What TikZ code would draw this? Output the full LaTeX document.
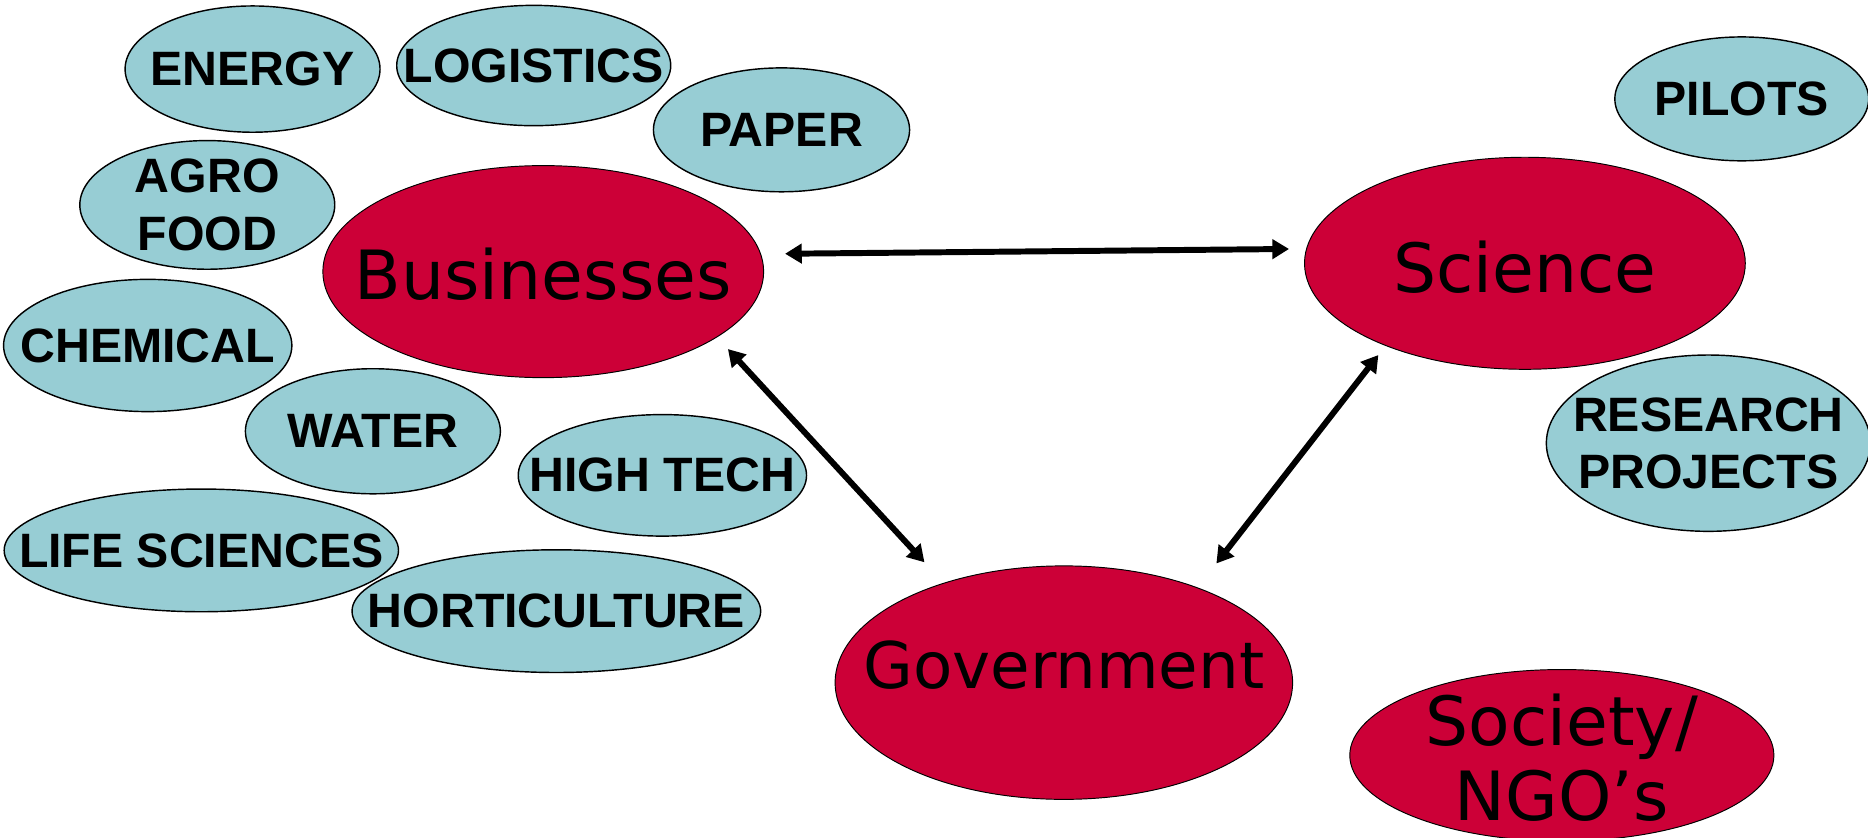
\documentclass[tikz,border=0pt]{standalone}
\usepackage{fontspec}
\setmainfont{Liberation Sans}
\newfontfamily\verd{DejaVu Sans}
\usetikzlibrary{shapes.geometric,arrows.meta,calc}
\definecolor{bubblue}{RGB}{151,205,212}
\definecolor{hubred}{RGB}{204,0,55}
\tikzset{
  bub/.style={ellipse, draw=black, line width=1.2pt, fill=bubblue, inner sep=0pt},
  hub/.style={ellipse, draw=black, line width=0.8pt, fill=hubred, inner sep=0pt},
  smalltxt/.style={font=\fontsize{40.5}{48}\selectfont\bfseries, align=center},
  bigtxt/.style={font=\verd\fontsize{57}{63}\selectfont, align=center},
  link/.style={draw=black, line width=5pt, {Triangle[length=14pt,width=16pt]}-{Triangle[length=14pt,width=16pt]}}
}
\begin{document}
\begin{tikzpicture}[x=1pt,y=-1pt]
\useasboundingbox (0,0) rectangle (1568,703);
% sector bubbles
\node[bub, minimum width=214, minimum height=106, label={[smalltxt]center:ENERGY}] (energy) at (212,58) {};
\node[bub, minimum width=230, minimum height=101, label={[smalltxt]center:LOGISTICS}] (logistics) at (448,55) {};
\node[bub, minimum width=215, minimum height=104, label={[smalltxt]center:PAPER}] (paper) at (656,109) {};
\node[bub, minimum width=214, minimum height=108, label={[smalltxt]center:AGRO\\FOOD}] (agro) at (174,172) {};
\node[bub, minimum width=242, minimum height=111, label={[smalltxt]center:CHEMICAL}] (chemical) at (124,290) {};
\node[bub, minimum width=214, minimum height=105, label={[smalltxt]center:WATER}] (water) at (313,362) {};
\node[bub, minimum width=242, minimum height=102, label={[smalltxt]center:HIGH TECH}] (hightech) at (556,399) {};
\node[bub, minimum width=331, minimum height=103, label={[smalltxt]center:LIFE SCIENCES}] (life) at (169,462) {};
\node[bub, minimum width=343, minimum height=103, label={[smalltxt]center:HORTICULTURE}] (horti) at (467,513) {};
\node[bub, minimum width=213, minimum height=104, label={[smalltxt]center:PILOTS}] (pilots) at (1462,83) {};
\node[bub, minimum width=272, minimum height=148, label={[smalltxt]center:RESEARCH\\PROJECTS}] (research) at (1434,372) {};
% main hubs
\node[hub, minimum width=370, minimum height=178, label={[bigtxt, yshift=-2pt]center:Businesses}] (bus) at (456,228) {};
\node[hub, minimum width=370, minimum height=178, label={[bigtxt, yshift=-3pt]center:Science}] (sci) at (1280,221) {};
\node[hub, minimum width=384, minimum height=196, label={[bigtxt, font=\verd\fontsize{54}{63}\selectfont, yshift=15pt]center:Government}] (gov) at (893,573) {};
\node[hub, minimum width=356, minimum height=144, label={[bigtxt, yshift=-2pt]center:Society/\\NGO’s}] (soc) at (1311,634) {};
% connectors
\draw[link] ($(bus.center)+(203,-15)$) -- ($(sci.center)+(-198,-12)$);
\draw[link] ($(bus.center)+(155,65)$) -- ($(gov.center)+(-117,-101)$);
\draw[link] ($(gov.center)+(128,-100)$) -- ($(sci.center)+(-123,77)$);
\end{tikzpicture}
\end{document}
